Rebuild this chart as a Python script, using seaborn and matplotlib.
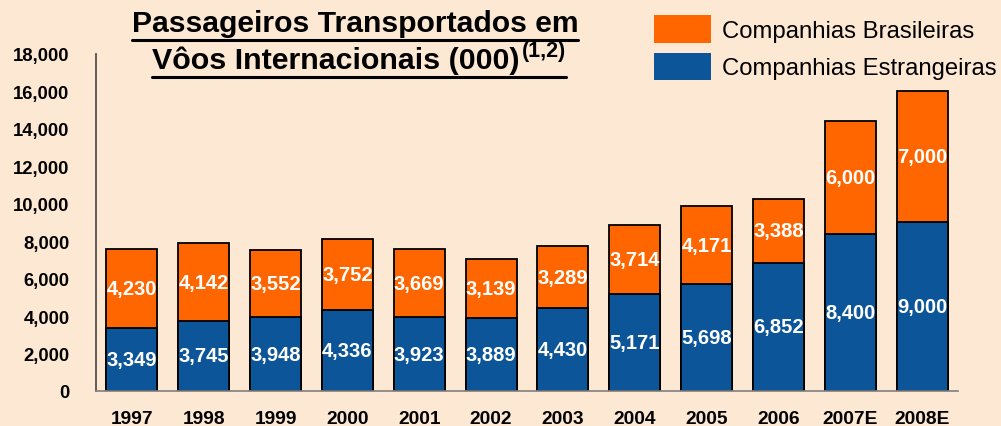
import matplotlib
matplotlib.use("Agg")
import matplotlib.pyplot as plt
import seaborn as sns
import pandas as pd
from matplotlib.patches import Patch
from matplotlib.lines import Line2D

anos = ['1997', '1998', '1999', '2000', '2001', '2002', '2003', '2004',
        '2005', '2006', '2007E', '2008E']
estrangeiras = [3349, 3745, 3948, 4336, 3923, 3889, 4430, 5171, 5698, 6852, 8400, 9000]
brasileiras = [4230, 4142, 3552, 3752, 3669, 3139, 3289, 3714, 4171, 3388, 6000, 7000]

laranja = '#FF6600'
azul = '#0D5599'
fundo = '#FCE8D3'

df = pd.DataFrame({'ano': anos, 'estr': estrangeiras, 'bras': brasileiras})
df['total'] = df['estr'] + df['bras']

sns.set_style('white')
plt.rcParams['font.family'] = ['Liberation Sans', 'DejaVu Sans']
plt.rcParams['text.color'] = 'black'

W, H = 1001, 427
fig = plt.figure(figsize=(W / 100, H / 100), dpi=100, facecolor=fundo)
ax = fig.add_axes([96 / W, 1 - 392 / H, (958 - 96) / W, (392 - 54.7) / H])
ax.set_facecolor(fundo)

sns.barplot(data=df, x='ano', y='total', color=laranja, saturation=1,
            edgecolor='black', linewidth=1.3, width=0.71, ax=ax)
sns.barplot(data=df, x='ano', y='estr', color=azul, saturation=1,
            edgecolor='black', linewidth=1.3, width=0.71, ax=ax)

for i, row in df.iterrows():
    ax.text(i, row['estr'] / 2, f"{row['estr']:,}", ha='center', va='center',
            color='white', fontsize=14.5, fontweight='bold')
    ax.text(i, row['estr'] + row['bras'] / 2, f"{row['bras']:,}", ha='center',
            va='center', color='white', fontsize=14.5, fontweight='bold')

ax.set_ylim(0, 18000)
ax.set_xlim(-0.5, len(anos) - 0.5)
ax.set_yticks(range(0, 18001, 2000))
ax.set_yticklabels([f'{v:,}' for v in range(0, 18001, 2000)],
                   fontsize=13.3, fontweight='bold')
ax.set_xticks([i - 0.5 for i in range(len(anos) + 1)])
ax.set_xticklabels([])
ax.set_xticks(range(len(anos)), minor=True)
ax.set_xticklabels(anos, minor=True, fontsize=13.8, fontweight='bold')
ax.tick_params(axis='x', which='minor', length=0, pad=14, labelcolor='black')
ax.tick_params(axis='x', which='major', length=5, color='#808080', width=1.2)
ax.tick_params(axis='y', length=6, color='#333333', width=1.2, pad=13,
               labelcolor='black')
ax.set_xlabel('')
ax.set_ylabel('')
for s in ['top', 'right']:
    ax.spines[s].set_visible(False)
ax.spines['left'].set_color('#444444')
ax.spines['left'].set_linewidth(1.2)
ax.spines['bottom'].set_color('#808080')
ax.spines['bottom'].set_linewidth(1.2)

# legenda
handles = [Patch(facecolor=laranja, edgecolor='none'),
           Patch(facecolor=azul, edgecolor='none')]
fig.legend(handles, ['Companhias Brasileiras', 'Companhias Estrangeiras'],
           loc='upper left', bbox_to_anchor=(654 / W, 1 - 16 / H),
           frameon=False, fontsize=17.2, handlelength=2.4, handleheight=1.4,
           handletextpad=0.45, labelspacing=0.42, borderpad=0, borderaxespad=0)

# título sublinhado
t1 = fig.text(355 / W, 1 - 24 / H, 'Passageiros Transportados em', ha='center',
              va='center', fontsize=21.7, fontweight='bold')
t2 = fig.text(152 / W, 1 - 61 / H, 'Vôos Internacionais (000)', ha='left',
              va='center', fontsize=21.9, fontweight='bold')
fig.canvas.draw()
r = fig.canvas.get_renderer()
b2 = t2.get_window_extent(r)
t3 = fig.text(b2.x1 / W + 2 / W, 1 - 51 / H, '(1,2)', ha='left', va='center',
              fontsize=15.5, fontweight='bold')
fig.canvas.draw()
b1 = t1.get_window_extent(r)
b3 = t3.get_window_extent(r)
fig.add_artist(Line2D([b1.x0 / W, b1.x1 / W], [1 - 41 / H, 1 - 41 / H],
                      transform=fig.transFigure, color='black', lw=2.2))
fig.add_artist(Line2D([b2.x0 / W, b3.x1 / W], [1 - 78 / H, 1 - 78 / H],
                      transform=fig.transFigure, color='black', lw=2.2))

fig.savefig('out.png', dpi=100, facecolor=fundo)
